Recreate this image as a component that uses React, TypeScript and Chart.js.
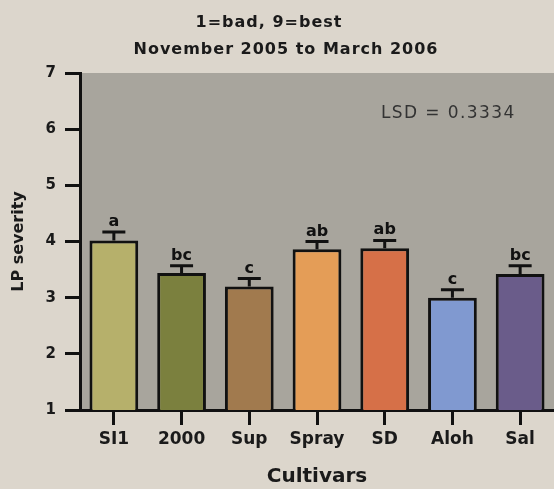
import React, { useEffect, useRef } from "react";
import { Chart, registerables } from "chart.js";

Chart.register(...registerables);

const cultivars = ["SI1", "2000", "Sup", "Spray", "SD", "Aloh", "Sal"];
const severity = [4.02, 3.44, 3.2, 3.86, 3.88, 3.0, 3.42];
const stdErr = [0.15, 0.13, 0.14, 0.14, 0.14, 0.14, 0.15];
const groupLetters = ["a", "bc", "c", "ab", "ab", "c", "bc"];
const barColors = ["#b6b06b", "#7b803e", "#a17a4e", "#e49d57", "#d67048", "#8099d0", "#6a5c8a"];
const titleLines = ["1=bad, 9=best", "November 2005 to March 2006"];
const lsdText = "LSD = 0.3334";
const yTitle = "LP severity";
const xTitle = "Cultivars";

const FONT = "'DejaVu Sans', sans-serif";

const decorPlugin = {
  id: "decor",
  beforeDraw(chart: any) {
    const { ctx, chartArea, width, height } = chart;
    ctx.save();
    ctx.fillStyle = "#dcd6cc";
    ctx.fillRect(0, 0, width, height);
    ctx.fillStyle = "#a8a59d";
    ctx.fillRect(chartArea.left, chartArea.top, chartArea.right - chartArea.left, chartArea.bottom - chartArea.top);
    ctx.fillStyle = "#1a1a1a";
    ctx.textAlign = "center";
    ctx.textBaseline = "alphabetic";
    ctx.font = `bold 16px ${FONT}`;
    (ctx as any).letterSpacing = "1px";
    ctx.fillText(titleLines[0], 269, 27);
    ctx.fillText(titleLines[1], 286, 54);
    ctx.restore();
  },
  afterDatasetsDraw(chart: any) {
    const { ctx } = chart;
    const meta = chart.getDatasetMeta(0);
    const yScale = chart.scales.y;
    ctx.save();
    ctx.strokeStyle = "#111";
    ctx.lineWidth = 3;
    meta.data.forEach((bar: any, i: number) => {
      const x = bar.x;
      const yTop = yScale.getPixelForValue(severity[i] + stdErr[i]);
      ctx.beginPath();
      ctx.moveTo(x, bar.y);
      ctx.lineTo(x, yTop);
      ctx.moveTo(x - 11.5, yTop);
      ctx.lineTo(x + 11.5, yTop);
      ctx.stroke();
      ctx.fillStyle = "#111";
      ctx.font = `bold 16px ${FONT}`;
      ctx.textAlign = "center";
      ctx.textBaseline = "alphabetic";
      ctx.fillText(groupLetters[i], x, yTop - 6);
    });
    ctx.fillStyle = "#333";
    ctx.font = `17px ${FONT}`;
    (ctx as any).letterSpacing = "1.4px";
    ctx.textAlign = "left";
    ctx.textBaseline = "alphabetic";
    ctx.fillText(lsdText, 381, 118);
    ctx.restore();
  },
};

export default function App() {
  const ref = useRef<HTMLCanvasElement>(null);
  useEffect(() => {
    if (!ref.current) return;
    const chart = new Chart(ref.current, {
      type: "bar",
      data: {
        labels: cultivars,
        datasets: [
          {
            data: severity,
            backgroundColor: barColors,
            borderColor: "#111",
            borderWidth: 3,
            borderSkipped: false,
            barPercentage: 0.72,
            categoryPercentage: 1,
          },
        ],
      },
      options: {
        animation: false,
        responsive: false,
        maintainAspectRatio: false,
        layout: { padding: { top: 73, left: 0, right: 0, bottom: 0 } },
        plugins: { legend: { display: false }, tooltip: { enabled: false }, title: { display: false } },
        scales: {
          x: {
            offset: true,
            grid: { offset: false, drawOnChartArea: false, drawTicks: true, tickLength: 15, lineWidth: 3, color: "#111" },
            border: { display: true, width: 3, color: "#111" },
            ticks: { color: "#1a1a1a", font: { family: FONT, size: 17, weight: "bold" }, padding: 4 },
            title: { display: true, text: xTitle, color: "#1a1a1a", font: { family: FONT, size: 20, weight: "bold" }, padding: { top: 4, bottom: 0 } },
            afterFit: (s: any) => { s.height = 79; },
          },
          y: {
            min: 1,
            max: 7,
            ticks: { stepSize: 1, color: "#1a1a1a", font: { family: FONT, size: 15, weight: "bold" }, padding: 9 },
            grid: { drawOnChartArea: false, drawTicks: true, tickLength: 15, lineWidth: 3, color: "#111" },
            border: { display: true, width: 3, color: "#111" },
            title: { display: true, text: yTitle, color: "#1a1a1a", font: { family: FONT, size: 16, weight: "bold" }, padding: { top: 9, bottom: 4 } },
            afterFit: (s: any) => { s.width = 80; },
          },
        },
      },
      plugins: [decorPlugin],
    });
    return () => chart.destroy();
  }, []);
  return (
    <div style={{ position: "absolute", left: 0, top: 0, width: 554, height: 489 }}>
      <canvas ref={ref} width={554} height={489} style={{ width: 554, height: 489 }} />
    </div>
  );
}
